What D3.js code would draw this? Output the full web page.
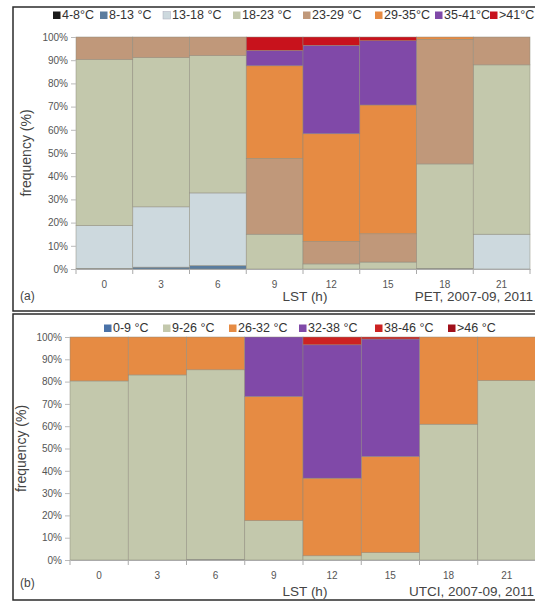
<!DOCTYPE html>
<html><head><meta charset="utf-8">
<script src="https://cdn.jsdelivr.net/npm/d3@7/dist/d3.min.js"></script>
<style>body{margin:0;background:#fff}svg{display:block}text{font-family:"Liberation Sans",Arial,sans-serif}</style>
</head><body><svg id="c" width="535" height="601"></svg>
<script>
const hours = ["0","3","6","9","12","15","18","21"];
const yTicks = [0,10,20,30,40,50,60,70,80,90,100];

// Panel (a) PET classes
const petClasses = ["4-8°C","8-13 °C","13-18 °C","18-23 °C","23-29 °C","29-35°C","35-41°C",">41°C"];
const petColors = ["#1a1a1a","#5a7c9e","#cdd9de","#c3c8ac","#c0987a","#e68b43","#8049a8","#c8121c"];
const pet_4_8   = [0,0,0,0,0,0,0,0];
const pet_8_13  = [0.3,0.8,1.5,0,0,0,0.3,0];
const pet_13_18 = [18.5,26,31.3,0,0,0,0,15];
const pet_18_23 = [71.5,64.3,59.2,15,2.2,3,45,73];
const pet_23_29 = [9.7,8.9,8,32.7,9.7,12.2,53.7,12];
const pet_29_35 = [0,0,0,39.9,46.4,55.5,1,0];
const pet_35_41 = [0,0,0,6.6,38.1,27.7,0,0];
const pet_41    = [0,0,0,5.8,3.6,1.6,0,0];

// Panel (b) UTCI classes
const utciClasses = ["0-9 °C","9-26 °C","26-32 °C","32-38 °C","38-46 °C",">46 °C"];
const utciColors = ["#4a72a8","#c3c8ac","#e68b43","#8049a8","#cc2222","#a0101a"];
const utci_0_9   = [0,0,0.3,0,0,0,0,0];
const utci_9_26  = [80.3,83,85,17.7,1.9,3.3,60.9,80.5];
const utci_26_32 = [19.7,17,14.7,55.6,34.8,43.1,39.1,19.5];
const utci_32_38 = [0,0,0,26.7,59.8,52.7,0,0];
const utci_38_46 = [0,0,0,0,3.5,0.9,0,0];
const utci_46    = [0,0,0,0,0,0,0,0];

const svg = d3.select("#c");

function panel(cfg){
  const g = svg.append("g");
  g.append("rect").attr("x",cfg.fx).attr("y",cfg.fy).attr("width",cfg.fw).attr("height",cfg.fh)
    .attr("fill","none").attr("stroke","#2b2b2b").attr("stroke-width",1.5);

  const x = d3.scaleBand().domain(hours).range([cfg.x0,cfg.x1]).padding(0);
  const y = d3.scaleLinear().domain([0,100]).range([cfg.y1,cfg.y0]);

  const rows = hours.map((h,i)=>{const o={hour:h}; cfg.classes.forEach((c,k)=>o[c]=cfg.series[k][i]); return o;});
  const stack = d3.stack().keys(cfg.classes)(rows);

  g.selectAll("g.layer").data(stack).join("g").attr("class","layer")
    .attr("fill",(d,i)=>cfg.colors[i])
    .selectAll("rect").data(d=>d.filter(p=>p[1]-p[0]>0)).join("rect")
    .attr("x",d=>x(d.data.hour)).attr("width",x.bandwidth())
    .attr("y",d=>y(d[1])).attr("height",d=>y(d[0])-y(d[1]))
    .attr("stroke","#8d8a7c").attr("stroke-width",0.6).attr("stroke-opacity",0.8);

  const ya = g.append("g").attr("transform",`translate(${cfg.x0},0)`)
    .call(d3.axisLeft(y).tickValues(yTicks).tickSize(5).tickPadding(3).tickFormat(d=>d+"%"));
  ya.select(".domain").remove();
  ya.selectAll("line").attr("stroke","#bbb");
  ya.selectAll("text").attr("font-size",10).attr("fill","#555");

  const xa = g.append("g").attr("transform",`translate(0,${cfg.y1})`)
    .call(d3.axisBottom(x).tickSize(0).tickPadding(12));
  xa.select(".domain").attr("stroke","#aaa");
  xa.selectAll("text").attr("font-size",10).attr("fill","#555");
  const bounds = hours.map(h=>x(h)).concat([cfg.x1]);
  xa.selectAll("line.bt").data(bounds).join("line").attr("class","bt")
    .attr("x1",d=>d).attr("x2",d=>d).attr("y1",0).attr("y2",5).attr("stroke","#aaa");

  g.append("text").attr("transform",`translate(${cfg.ytx},${(cfg.y0+cfg.y1)/2}) rotate(-90)`)
    .attr("text-anchor","middle").attr("font-size",14).attr("fill","#444").text("frequency (%)");
  g.append("text").attr("x",(cfg.x0+cfg.x1)/2+2).attr("y",cfg.xty).attr("text-anchor","middle")
    .attr("font-size",13.5).attr("fill","#444").text("LST (h)");
  g.append("text").attr("x",cfg.notex).attr("y",cfg.xty).attr("text-anchor","end")
    .attr("font-size",13.5).attr("fill","#444").text(cfg.note);
  g.append("text").attr("x",20).attr("y",cfg.lety).attr("font-size",12).attr("fill","#444").text(cfg.letter);

  const lg = g.append("g");
  cfg.classes.forEach((c,i)=>{
    const lx = cfg.legx[i];
    lg.append("rect").attr("x",lx).attr("y",cfg.legy-7.5).attr("width",7.5).attr("height",7.5)
      .attr("fill",cfg.colors[i]).attr("stroke",i===2&&cfg.letter==="(a)"?"#aab":"none").attr("stroke-width",0.5);
    lg.append("text").attr("x",lx+9).attr("y",cfg.legy).attr("font-size",12.5).attr("fill","#333").text(c);
  });
}

panel({
  fx:13, fy:7, fw:540, fh:304,
  x0:76, x1:530, y0:37, y1:269,
  classes:petClasses, colors:petColors,
  series:[pet_4_8,pet_8_13,pet_13_18,pet_18_23,pet_23_29,pet_29_35,pet_35_41,pet_41],
  ytx:31, xty:301, notex:533, note:"PET, 2007-09, 2011", letter:"(a)", lety:300,
  legy:19, legx:[53,100,163,233,303,375,435,490]
});
panel({
  fx:13, fy:314, fw:540, fh:286,
  x0:70, x1:536, y0:337, y1:560,
  classes:utciClasses, colors:utciColors,
  series:[utci_0_9,utci_9_26,utci_26_32,utci_32_38,utci_38_46,utci_46],
  ytx:26, xty:596, notex:534, note:"UTCI, 2007-09, 2011", letter:"(b)", lety:587,
  legy:332, legx:[104,163,229,299,375,448]
});
</script></body></html>
